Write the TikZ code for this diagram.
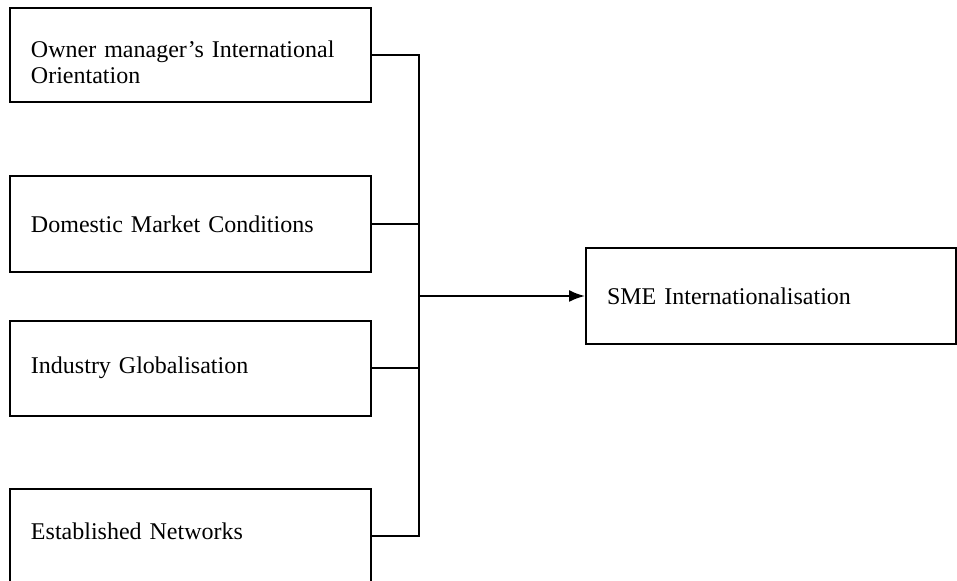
\documentclass[tikz,border=0pt]{standalone}
\usepackage{fontspec}
\setmainfont{Liberation Serif}
\usetikzlibrary{arrows.meta}
\begin{document}
\begin{tikzpicture}[x=0.5pt,y=-0.5pt,
  box/.style={draw,line width=1pt,rectangle,inner xsep=10.5pt,inner ysep=0pt,
    align=left,font=\fontsize{12}{13}\selectfont},
  leftbox/.style={box,minimum width=180.5pt,text width=159.5pt},
  link/.style={line width=1pt}]
\useasboundingbox (0,0) rectangle (957,581);
\node[leftbox,minimum height=47pt] (b1) at (190.5,55) {\rule{0pt}{15.5pt}Owner manager’s International\\Orientation};
\node[leftbox,minimum height=48pt] (b2) at (190.5,224) {Domestic Market Conditions};
\node[leftbox,minimum height=47.5pt] (b3) at (190.5,368.5) {Industry Globalisation\rule[-3pt]{0pt}{0pt}};
\node[leftbox,minimum height=47pt] (b4) at (190.5,536) {Established Networks\rule[-5pt]{0pt}{0pt}};
\node[box,minimum width=185pt,text width=164pt,minimum height=48pt] (sme) at (771,296) {SME Internationalisation};
\coordinate (j) at (419,296);
\draw[link] (b1.east) -| (j);
\draw[link] (b2.east) -| (j);
\draw[link] (b3.east) -| (j);
\draw[link] (b4.east) -| (j);
\draw[link,-{Latex[length=8pt,width=6pt]}] (j) -- (sme.west);
\end{tikzpicture}
\end{document}
